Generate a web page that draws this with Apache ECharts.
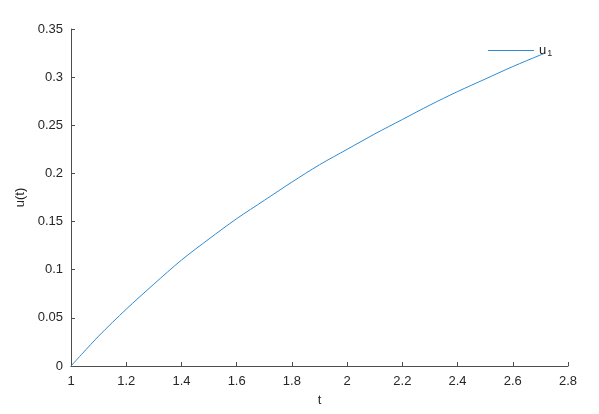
<!DOCTYPE html>
<html>
<head>
<meta charset="utf-8">
<script src="https://cdn.jsdelivr.net/npm/echarts@6/dist/echarts.min.js"></script>
<style>
  html, body { margin: 0; padding: 0; background: #fff; }
  #chart { width: 599px; height: 414px; }
</style>
</head>
<body>
<div id="chart"></div>
<script>
// values
var tValues = [1.0, 1.1, 1.2, 1.3, 1.4, 1.5, 1.6, 1.7, 1.8, 1.9, 2.0, 2.1, 2.2, 2.3, 2.4, 2.5, 2.6, 2.7, 2.718];
var uValues = [0, 0.031, 0.059, 0.085, 0.110, 0.132, 0.153, 0.172, 0.191, 0.209, 0.225, 0.241, 0.256, 0.271, 0.285, 0.298, 0.311, 0.323, 0.325];
var seriesName = 'u1';
var xLabel = 't';
var yLabel = 'u(t)';

var points = tValues.map(function (t, i) { return [t, uValues[i]]; });

var axisColor = '#4d4d4d';
var textColor = '#262626';
var font = 'Liberation Sans, Arial, Helvetica, sans-serif';

var myChart = echarts.init(document.getElementById('chart'));
var option = {
  animation: false,
  backgroundColor: '#fff',
  grid: { left: 71, right: 31, top: 29, bottom: 48 },
  legend: {
    data: [seriesName],
    left: 488,
    top: 44,
    padding: 0,
    icon: 'rect',
    itemWidth: 46,
    itemHeight: 1,
    itemGap: 0,
    formatter: function () { return '{a|u}{b|1}'; },
    textStyle: {
      rich: {
        a: { fontSize: 13, color: textColor, fontFamily: font },
        b: { fontSize: 9, color: textColor, fontFamily: font, padding: [7, 0, 0, 1] }
      }
    }
  },
  xAxis: {
    type: 'value',
    min: 1,
    max: 2.8,
    interval: 0.2,
    name: xLabel,
    nameLocation: 'middle',
    nameGap: 28,
    nameTextStyle: { fontSize: 13, color: textColor, fontFamily: font },
    axisLine: { show: true, lineStyle: { color: axisColor, width: 1 } },
    axisTick: { show: true, inside: true, length: 4, lineStyle: { color: axisColor } },
    axisLabel: { fontSize: 13, color: textColor, fontFamily: font, margin: 9 },
    splitLine: { show: false }
  },
  yAxis: {
    type: 'value',
    min: 0,
    max: 0.35,
    interval: 0.05,
    name: yLabel,
    nameLocation: 'middle',
    nameRotate: 90,
    nameGap: 44,
    nameTextStyle: { fontSize: 13, color: textColor, fontFamily: font },
    axisLine: { show: true, lineStyle: { color: axisColor, width: 1 } },
    axisTick: { show: true, inside: true, length: 4, lineStyle: { color: axisColor } },
    axisLabel: { fontSize: 13, color: textColor, fontFamily: font, margin: 8 },
    splitLine: { show: false }
  },
  series: [
    {
      name: seriesName,
      type: 'line',
      showSymbol: false,
      smooth: 0.3,
      itemStyle: { color: '#2e8bd3' },
      lineStyle: { color: '#2e8bd3', width: 1 },
      data: points
    }
  ]
};
myChart.setOption(option);
</script>
</body>
</html>
